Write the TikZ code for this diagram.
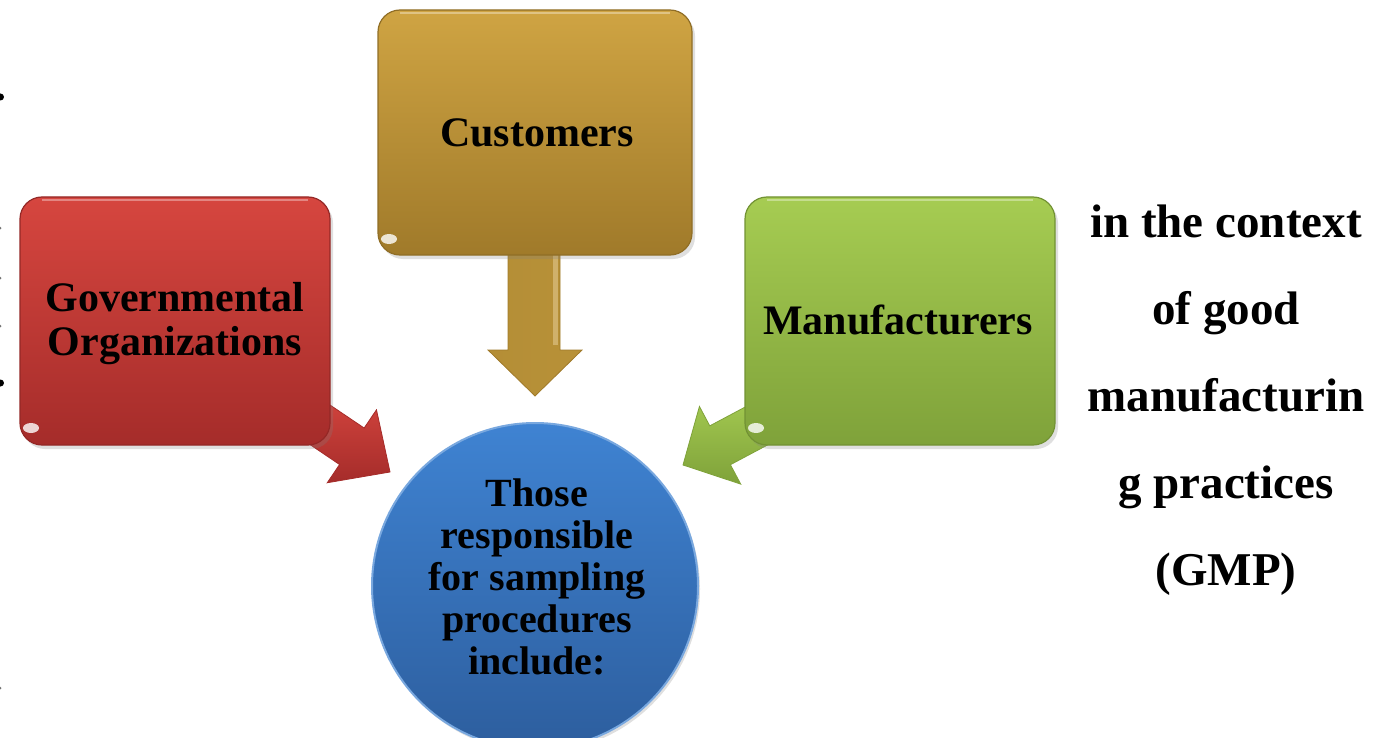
\documentclass[tikz,border=0pt]{standalone}
\usepackage{fontspec}
\setmainfont{Liberation Serif}
\usetikzlibrary{shadows,calc}

\definecolor{redtop}{HTML}{D6463F}
\definecolor{redbot}{HTML}{A52C2A}
\definecolor{goldtop}{HTML}{CFA443}
\definecolor{goldmid}{HTML}{B48E36}
\definecolor{goldbot}{HTML}{A07A2A}
\definecolor{greentop}{HTML}{A6CC52}
\definecolor{greenbot}{HTML}{7FA23A}
\definecolor{bluetop}{HTML}{3F83D2}
\definecolor{bluebot}{HTML}{2D5E9E}

\tikzset{
  boxtext/.style={font=\bfseries\fontsize{42}{44}\selectfont, align=center, text=black},
  glossbox/.style={rounded corners=22pt, line width=1.2pt,
    drop shadow={shadow xshift=3pt, shadow yshift=-4pt, opacity=0.25}},
  blockarrow/.style={line width=0.8pt},
  sidetext/.style={font=\bfseries\fontsize{47}{87}\selectfont, align=center},
  bulletdot/.style={fill=black, draw=none}
}

\begin{document}
\begin{tikzpicture}[x=1pt,y=-1pt]
\useasboundingbox (0,0) rectangle (1383,738);
\clip (0,0) rectangle (1383,738);

% partial bullets on the left margin
\fill[bulletdot] (0.5,97) circle (3.5);
\fill[bulletdot] (0.5,383) circle (3.5);
\foreach \yy in {228,278,326,688} \fill[black!55] (0,\yy) circle (1.5);

% anchors of the three block arrows
\coordinate (redtip) at (390,472);
\coordinate (goldtip) at (535,396);
\coordinate (greentip) at (683,465);

% block arrows (drawn first, they run under the boxes)
\begin{scope}[shift={(redtip)}, rotate=-34]
  \shade[blockarrow, top color=redtop, bottom color=redbot, draw=redbot]
    (0,0) -- (-46,44) -- (-46,22) -- (-115,22) -- (-115,-22) -- (-46,-22) -- (-46,-44) -- cycle;
\end{scope}
\shade[blockarrow, left color=goldmid, right color=goldmid!85!goldtop, draw=goldbot]
  (goldtip) -- ++(-47,-46) -- ++(20,0) -- ++(0,-120) -- ++(52,0) -- ++(0,120) -- ++(22,0) -- cycle;
\fill[goldtop!60!white, opacity=0.6] (553,255) rectangle (558,345);
\begin{scope}[shift={(greentip)}, rotate=208]
  \shade[blockarrow, top color=greentop, bottom color=greenbot, draw=greenbot]
    (0,0) -- (-42,44) -- (-42,22) -- (-115,22) -- (-115,-22) -- (-42,-22) -- (-42,-44) -- cycle;
\end{scope}

% the three source boxes
\shade[glossbox, top color=redtop, bottom color=redbot, draw=redbot!90!black]
  (20,197) rectangle (330,445);
\shade[glossbox, top color=goldtop, bottom color=goldbot, draw=goldbot!90!black]
  (378,10) rectangle (692,255);
\shade[glossbox, top color=greentop, bottom color=greenbot, draw=greenbot!90!black]
  (745,197) rectangle (1055,445);

% light rim along the top of each box
\draw[white, opacity=0.35, line width=2pt] (42,200) -- (308,200);
\draw[white, opacity=0.35, line width=2pt] (400,13) -- (670,13);
\draw[white, opacity=0.35, line width=2pt] (767,200) -- (1033,200);

% glints in the lower-left corners
\fill[white, opacity=0.8] (31,428) ellipse (8 and 5);
\fill[white, opacity=0.8] (389,239) ellipse (8 and 5);
\fill[white, opacity=0.8] (756,428) ellipse (8 and 5);

\node[boxtext] (gov) at (175,324) {Governmental\\Organizations};
\node[boxtext] (cust) at (537,133) {Customers};
\node[boxtext] (manu) at (898,320) {Manufacturers};

% central circle
\shade[top color=bluetop, bottom color=bluebot, draw=bluetop!70!white, line width=2pt,
  drop shadow={shadow xshift=2pt, shadow yshift=-3pt, opacity=0.25}]
  (535,586) circle (163);
\node[boxtext, font=\bfseries\fontsize{40}{42}\selectfont] (center) at (537,577)
  {Those\\responsible\\for sampling\\procedures\\include:};

% side note
\node[sidetext] (note) at (1226,400)
  {in the context\\of good\\manufacturin\\g practices\\(GMP)};
\end{tikzpicture}
\end{document}
